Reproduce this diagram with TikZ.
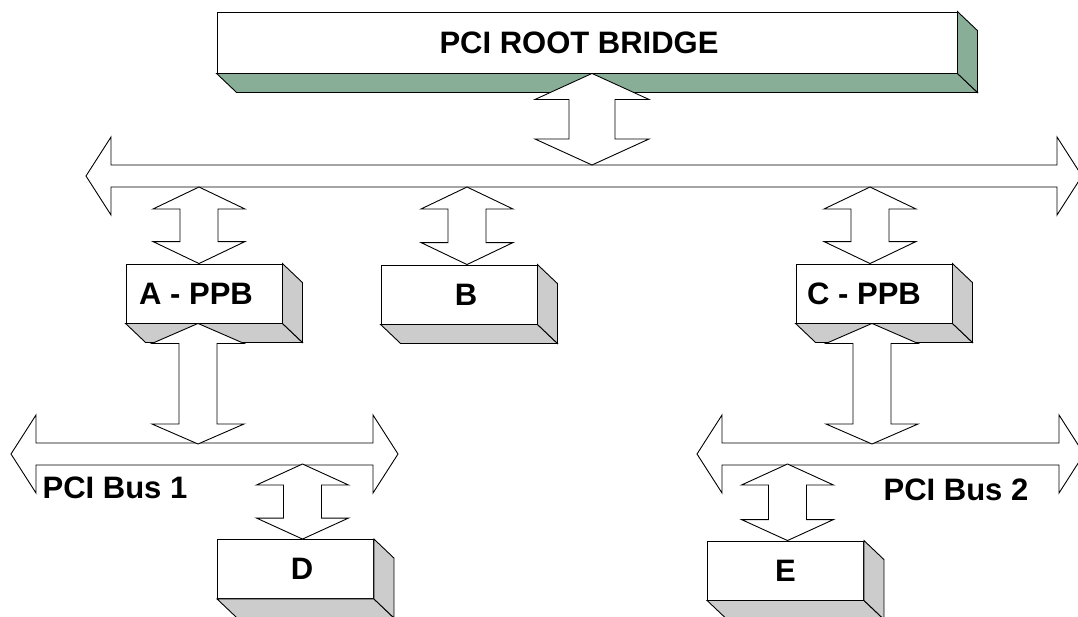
\documentclass[tikz,border=0pt]{standalone}
\usepackage{fontspec}
\setmainfont{Liberation Sans}
\usetikzlibrary{calc}

\definecolor{rootgreen}{HTML}{88AE98}
\definecolor{sidegray}{HTML}{CCCCCC}

\tikzset{
  unit/.style={draw, fill=white, line width=0.9pt, minimum width=156pt, minimum height=59pt,
    inner sep=0pt, font=\bfseries\fontsize{31}{37}\selectfont},
  textshift/.style={execute at begin node={\hspace*{#1}}},
  busline/.style={draw, fill=white, line width=0.9pt, line join=miter},
  buslabel/.style={inner sep=0pt, font=\bfseries\fontsize{31}{37}\selectfont},
}

% shaded bottom and right faces of a box
\newcommand{\sides}[2]{%
  \draw[fill=#2, line width=0.9pt] (#1.south west) -- (#1.south east) -- ++(20pt,-19pt)
    -- ($(#1.south west)+(20pt,-19pt)$) -- cycle;
  \draw[fill=#2, line width=0.9pt] (#1.north east) -- ++(20pt,-19pt)
    -- ($(#1.south east)+(20pt,-19pt)$) -- (#1.south east) -- cycle;
}

% vertical two-way block arrow: #1 upper tip (gives x), #2 lower tip,
% #3 head half width, #4 shaft half width, #5 head length
\newcommand{\duplex}[5]{%
  \draw[busline] let \p1=#1, \p2=#2 in
    (\x1,\y1) -- (\x1+#3pt,\y1-#5pt) -- (\x1+#4pt,\y1-#5pt) -- (\x1+#4pt,\y2+#5pt)
    -- (\x1+#3pt,\y2+#5pt) -- (\x1,\y2) -- (\x1-#3pt,\y2+#5pt) -- (\x1-#4pt,\y2+#5pt)
    -- (\x1-#4pt,\y1-#5pt) -- (\x1-#3pt,\y1-#5pt) -- cycle;
}

% horizontal bus: #1 left tip, #2 right tip (same height)
\newcommand{\bus}[2]{%
  \draw[busline] let \p1=#1, \p2=#2 in
    (\x1,\y1) -- (\x1+25pt,\y1+39pt) -- (\x1+25pt,\y1+11pt) -- (\x2-25pt,\y1+11pt)
    -- (\x2-25pt,\y1+39pt) -- (\x2,\y1) -- (\x2-25pt,\y1-39pt) -- (\x2-25pt,\y1-11pt)
    -- (\x1+25pt,\y1-11pt) -- (\x1+25pt,\y1-39pt) -- cycle;
}

\begin{document}
\begin{tikzpicture}[x=1pt,y=-1pt]
  \useasboundingbox (0,0) rectangle (1078,616);

  % bridges and devices
  \node[unit, textshift=-16pt, minimum width=740pt, minimum height=61pt] (root) at (587,42.5) {PCI ROOT BRIDGE};
  \node[unit, textshift=-16pt] (A) at (204,293.5) {A - PPB};
  \node[unit, textshift=14pt] (B) at (459,294.5) {B};
  \node[unit, textshift=-20pt] (C) at (874,293.5) {C - PPB};
  \node[unit, textshift=13pt] (D) at (295.5,569) {D};
  \node[unit] (E) at (785.5,570.5) {E};
  \sides{root}{rootgreen}
  \foreach \u in {A,B,C,D,E} {\sides{\u}{sidegray}}

  % buses
  \coordinate (top-w) at (86,176);
  \coordinate (top-e) at (1082,176);
  \coordinate (top-n) at (0,165);
  \coordinate (top-s) at (0,187);
  \coordinate (bus1-w) at (11,454);
  \coordinate (bus1-e) at (398,454);
  \coordinate (bus2-w) at (697,454);
  \coordinate (bus2-e) at (1084,454);
  \coordinate (bus-n) at (0,444);
  \coordinate (bus-s) at (0,464);
  \bus{(top-w)}{(top-e)}
  \bus{(bus1-w)}{(bus1-e)}
  \bus{(bus2-w)}{(bus2-e)}
  \node[buslabel] (bus1) at (115,488) {PCI Bus 1};
  \node[buslabel] (bus2) at (956,490) {PCI Bus 2};

  % links
  \duplex{([xshift=5pt]root.south)}{(top-n)}{57}{23}{26}
  \duplex{([xshift=-5pt]A.north |- top-s)}{(A.north)}{46}{19}{22}
  \duplex{([xshift=8pt]B.north |- top-s)}{(B.north)}{46}{19}{22}
  \duplex{([xshift=-4pt]C.north |- top-s)}{(C.north)}{46}{19}{22}
  \duplex{([xshift=-6pt]A.south)}{(bus-n)}{46}{19}{20}
  \duplex{([xshift=-2pt]C.south)}{(bus-n)}{46}{19}{20}
  \duplex{([xshift=7pt]D.north |- bus-s)}{(D.north)}{46}{19}{21}
  \duplex{([xshift=2pt]E.north |- bus-s)}{(E.north)}{46}{19}{21}
\end{tikzpicture}
\end{document}
